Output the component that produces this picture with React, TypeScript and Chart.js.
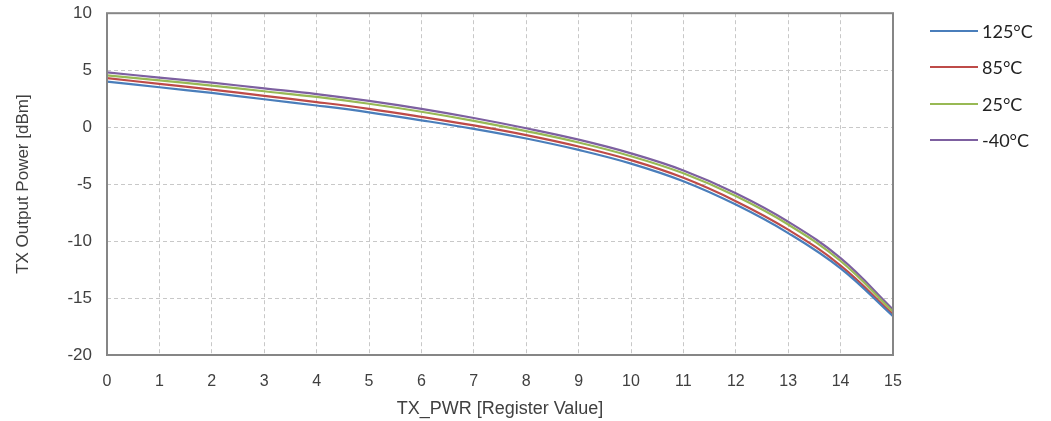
import React, { useEffect, useRef } from "react";
import { Chart, registerables } from "chart.js";

Chart.register(...registerables);

const registerValues = [0, 1, 2, 3, 4, 5, 6, 7, 8, 9, 10, 11, 12, 13, 14, 15];
const temp125 = [4.0, 3.5, 3.0, 2.45, 1.9, 1.3, 0.6, -0.15, -1.0, -2.0, -3.2, -4.75, -6.8, -9.3, -12.4, -16.6];
const temp85 = [4.3, 3.8, 3.3, 2.75, 2.2, 1.6, 0.9, 0.15, -0.7, -1.7, -2.9, -4.45, -6.5, -9.0, -12.15, -16.45];
const temp25 = [4.55, 4.1, 3.65, 3.15, 2.65, 2.05, 1.35, 0.55, -0.35, -1.35, -2.55, -4.05, -6.05, -8.55, -11.75, -16.2];
const tempM40 = [4.8, 4.35, 3.9, 3.4, 2.9, 2.3, 1.6, 0.8, -0.1, -1.1, -2.3, -3.8, -5.8, -8.3, -11.5, -16.0];
const seriesLabels = ["125°C", "85°C", "25°C", "-40°C"];
const seriesColors = ["#4a7ebb", "#be4b48", "#98b954", "#7d60a0"];

const frame = {
  id: "frame",
  afterDraw(chart: any) {
    const { ctx, chartArea } = chart;
    ctx.save();
    ctx.strokeStyle = "#868686";
    ctx.lineWidth = 2;
    ctx.strokeRect(chartArea.left, chartArea.top, chartArea.right - chartArea.left, chartArea.bottom - chartArea.top);
    ctx.restore();
  },
};

export default function App() {
  const ref = useRef<HTMLCanvasElement>(null);
  useEffect(() => {
    const all = [temp125, temp85, temp25, tempM40];
    const chart = new Chart(ref.current!, {
      type: "line",
      data: {
        datasets: all.map((s, i) => ({
          label: seriesLabels[i],
          data: s.map((v, j) => ({ x: registerValues[j], y: v })),
          borderColor: seriesColors[i],
          borderWidth: 2.2,
          pointRadius: 0,
          tension: 0.4,
          fill: false,
        })),
      },
      options: {
        animation: false,
        responsive: false,
        layout: { padding: { left: 0, top: 2, right: 158, bottom: 0 } },
        plugins: { legend: { display: false }, tooltip: { enabled: false } },
        scales: {
          x: {
            type: "linear",
            min: 0,
            max: 15,
            afterFit: (s: any) => { s.height = 421 - 355; },
            ticks: { stepSize: 1, padding: 17, color: "#404040", font: { family: "Liberation Sans", size: 16 } },
            grid: { color: "#c8c8c8", drawTicks: false },
            border: { display: false, dash: [4, 3] },
            title: { display: true, text: "TX_PWR [Register Value]", color: "#404040", font: { family: "Liberation Sans", size: 18 }, padding: { top: 6, bottom: 1 } },
          },
          y: {
            min: -20,
            max: 10,
            afterFit: (s: any) => { s.width = 107; },
            ticks: { stepSize: 5, padding: 15, color: "#404040", font: { family: "Liberation Sans", size: 17 } },
            grid: { color: "#c8c8c8", drawTicks: false },
            border: { display: false, dash: [4, 3] },
            title: { display: true, text: "TX Output Power [dBm]", color: "#404040", font: { family: "Liberation Sans", size: 17 }, padding: { top: 13, bottom: 0 } },
          },
        },
      },
      plugins: [frame],
    });
    return () => chart.destroy();
  }, []);

  return (
    <div style={{ position: "fixed", left: 0, top: 0, width: 1051, height: 421, background: "#fff", overflow: "hidden" }}>
      <canvas ref={ref} width={1051} height={433} style={{ position: "absolute", left: 0, top: -12 }} />
      {seriesLabels.map((l, i) => (
        <div key={l} style={{ position: "absolute", left: 930, top: 31 + i * 36.3 - 12, height: 24, display: "flex", alignItems: "center" }}>
          <div style={{ width: 48, height: 2, background: seriesColors[i], marginRight: 4 }} />
          <span style={{ fontFamily: "Lato", fontSize: 18, color: "#222" }}>{l}</span>
        </div>
      ))}
    </div>
  );
}
